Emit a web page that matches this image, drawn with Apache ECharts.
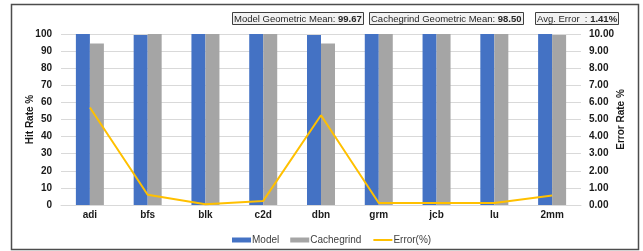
<!DOCTYPE html>
<html>
<head>
<meta charset="utf-8">
<script src="https://cdn.jsdelivr.net/npm/echarts@6/dist/echarts.min.js"></script>
<style>
  html, body { margin: 0; padding: 0; background: #fff; }
  #chart { width: 643px; height: 251px; }
</style>
</head>
<body>
<div id="chart"></div>
<script>
// benchmarks
const categories = ['adi', 'bfs', 'blk', 'c2d', 'dbn', 'grm', 'jcb', 'lu', '2mm'];
// hit rates (%)
const modelHit = [100, 99.4, 100, 100, 99.4, 100, 100, 100, 100];
const cachegrindHit = [94.4, 100, 100, 100, 94.4, 100, 100, 100, 99.4];
// error (%)
const errorRate = [5.7, 0.6, 0.04, 0.24, 5.25, 0.12, 0.12, 0.12, 0.56];

const FONT = 'Liberation Sans, Arial, sans-serif';

const chart = echarts.init(document.getElementById('chart'));

function statBox(left, label, value) {
  return {
    left: left,
    top: 12,
    padding: [2, 2, 1, 2],
    backgroundColor: '#f2f2f2',
    borderColor: '#3f3f3f',
    borderWidth: 1,
    text: label + '{b|' + value + '}',
    textStyle: {
      fontFamily: FONT, fontSize: 9.5, fontWeight: 'normal', color: '#262626',
      rich: { b: { fontFamily: FONT, fontSize: 9.5, fontWeight: 'bold', color: '#262626' } }
    }
  };
}

const option = {
  animation: false,
  title: [
    statBox(232, 'Model Geometric Mean: ', '99.67'),
    statBox(369, 'Cachegrind Geometric Mean: ', '98.50'),
    statBox(535, 'Avg. Error  : ', '1.41%')
  ],
  graphic: [{
    type: 'rect',
    shape: { x: 11.5, y: 4.5, width: 627, height: 245 },
    style: { fill: 'none', stroke: '#4d4d4d', lineWidth: 1.5 },
    z: -1
  }],
  legend: {
    left: 227,
    top: 230,
    itemWidth: 19,
    itemHeight: 5,
    itemGap: 11,
    textStyle: { fontFamily: FONT, fontSize: 10, color: '#404040', padding: [0, 0, 0, -4] },
    data: [
      { name: 'Model', icon: 'rect' },
      { name: 'Cachegrind', icon: 'rect' },
      { name: 'Error(%)', itemStyle: { opacity: 0 } }
    ]
  },
  grid: { left: 61, right: 62, top: 34, bottom: 46 },
  xAxis: {
    type: 'category',
    data: categories,
    axisLine: { lineStyle: { color: '#d9d9d9' } },
    axisTick: { show: false },
    axisLabel: { fontFamily: FONT, fontSize: 10, fontWeight: 'bold', color: '#1a1a1a', margin: 5 }
  },
  yAxis: [{
    type: 'value',
    min: 0, max: 100, interval: 10,
    name: 'Hit Rate %',
    nameLocation: 'middle',
    nameMoveOverlap: false,
    nameGap: 26,
    nameTextStyle: { fontFamily: FONT, fontSize: 10, fontWeight: 'bold', color: '#1a1a1a' },
    axisLabel: { fontFamily: FONT, fontSize: 10, fontWeight: 'bold', color: '#1a1a1a', margin: 9 },
    splitLine: { lineStyle: { color: '#d9d9d9' } }
  }, {
    type: 'value',
    min: 0, max: 10, interval: 1,
    name: 'Error Rate %',
    nameLocation: 'middle',
    nameMoveOverlap: false,
    nameGap: 35,
    nameRotate: 90,
    nameTextStyle: { fontFamily: FONT, fontSize: 10, fontWeight: 'bold', color: '#1a1a1a' },
    axisLabel: {
      fontFamily: FONT, fontSize: 10, fontWeight: 'bold', color: '#1a1a1a', margin: 8,
      formatter: v => v.toFixed(2)
    },
    splitLine: { show: false }
  }],
  series: [{
    name: 'Model',
    type: 'bar',
    data: modelHit,
    barWidth: 14,
    barGap: '0%',
    itemStyle: { color: '#4472c4' }
  }, {
    name: 'Cachegrind',
    type: 'bar',
    data: cachegrindHit,
    barWidth: 14,
    barGap: '0%',
    itemStyle: { color: '#a5a5a5' }
  }, {
    name: 'Error(%)',
    type: 'line',
    yAxisIndex: 1,
    data: errorRate,
    symbol: 'none',
    lineStyle: { color: '#ffc000', width: 2 },
    itemStyle: { color: '#ffc000' }
  }]
};

chart.setOption(option);
</script>
</body>
</html>
